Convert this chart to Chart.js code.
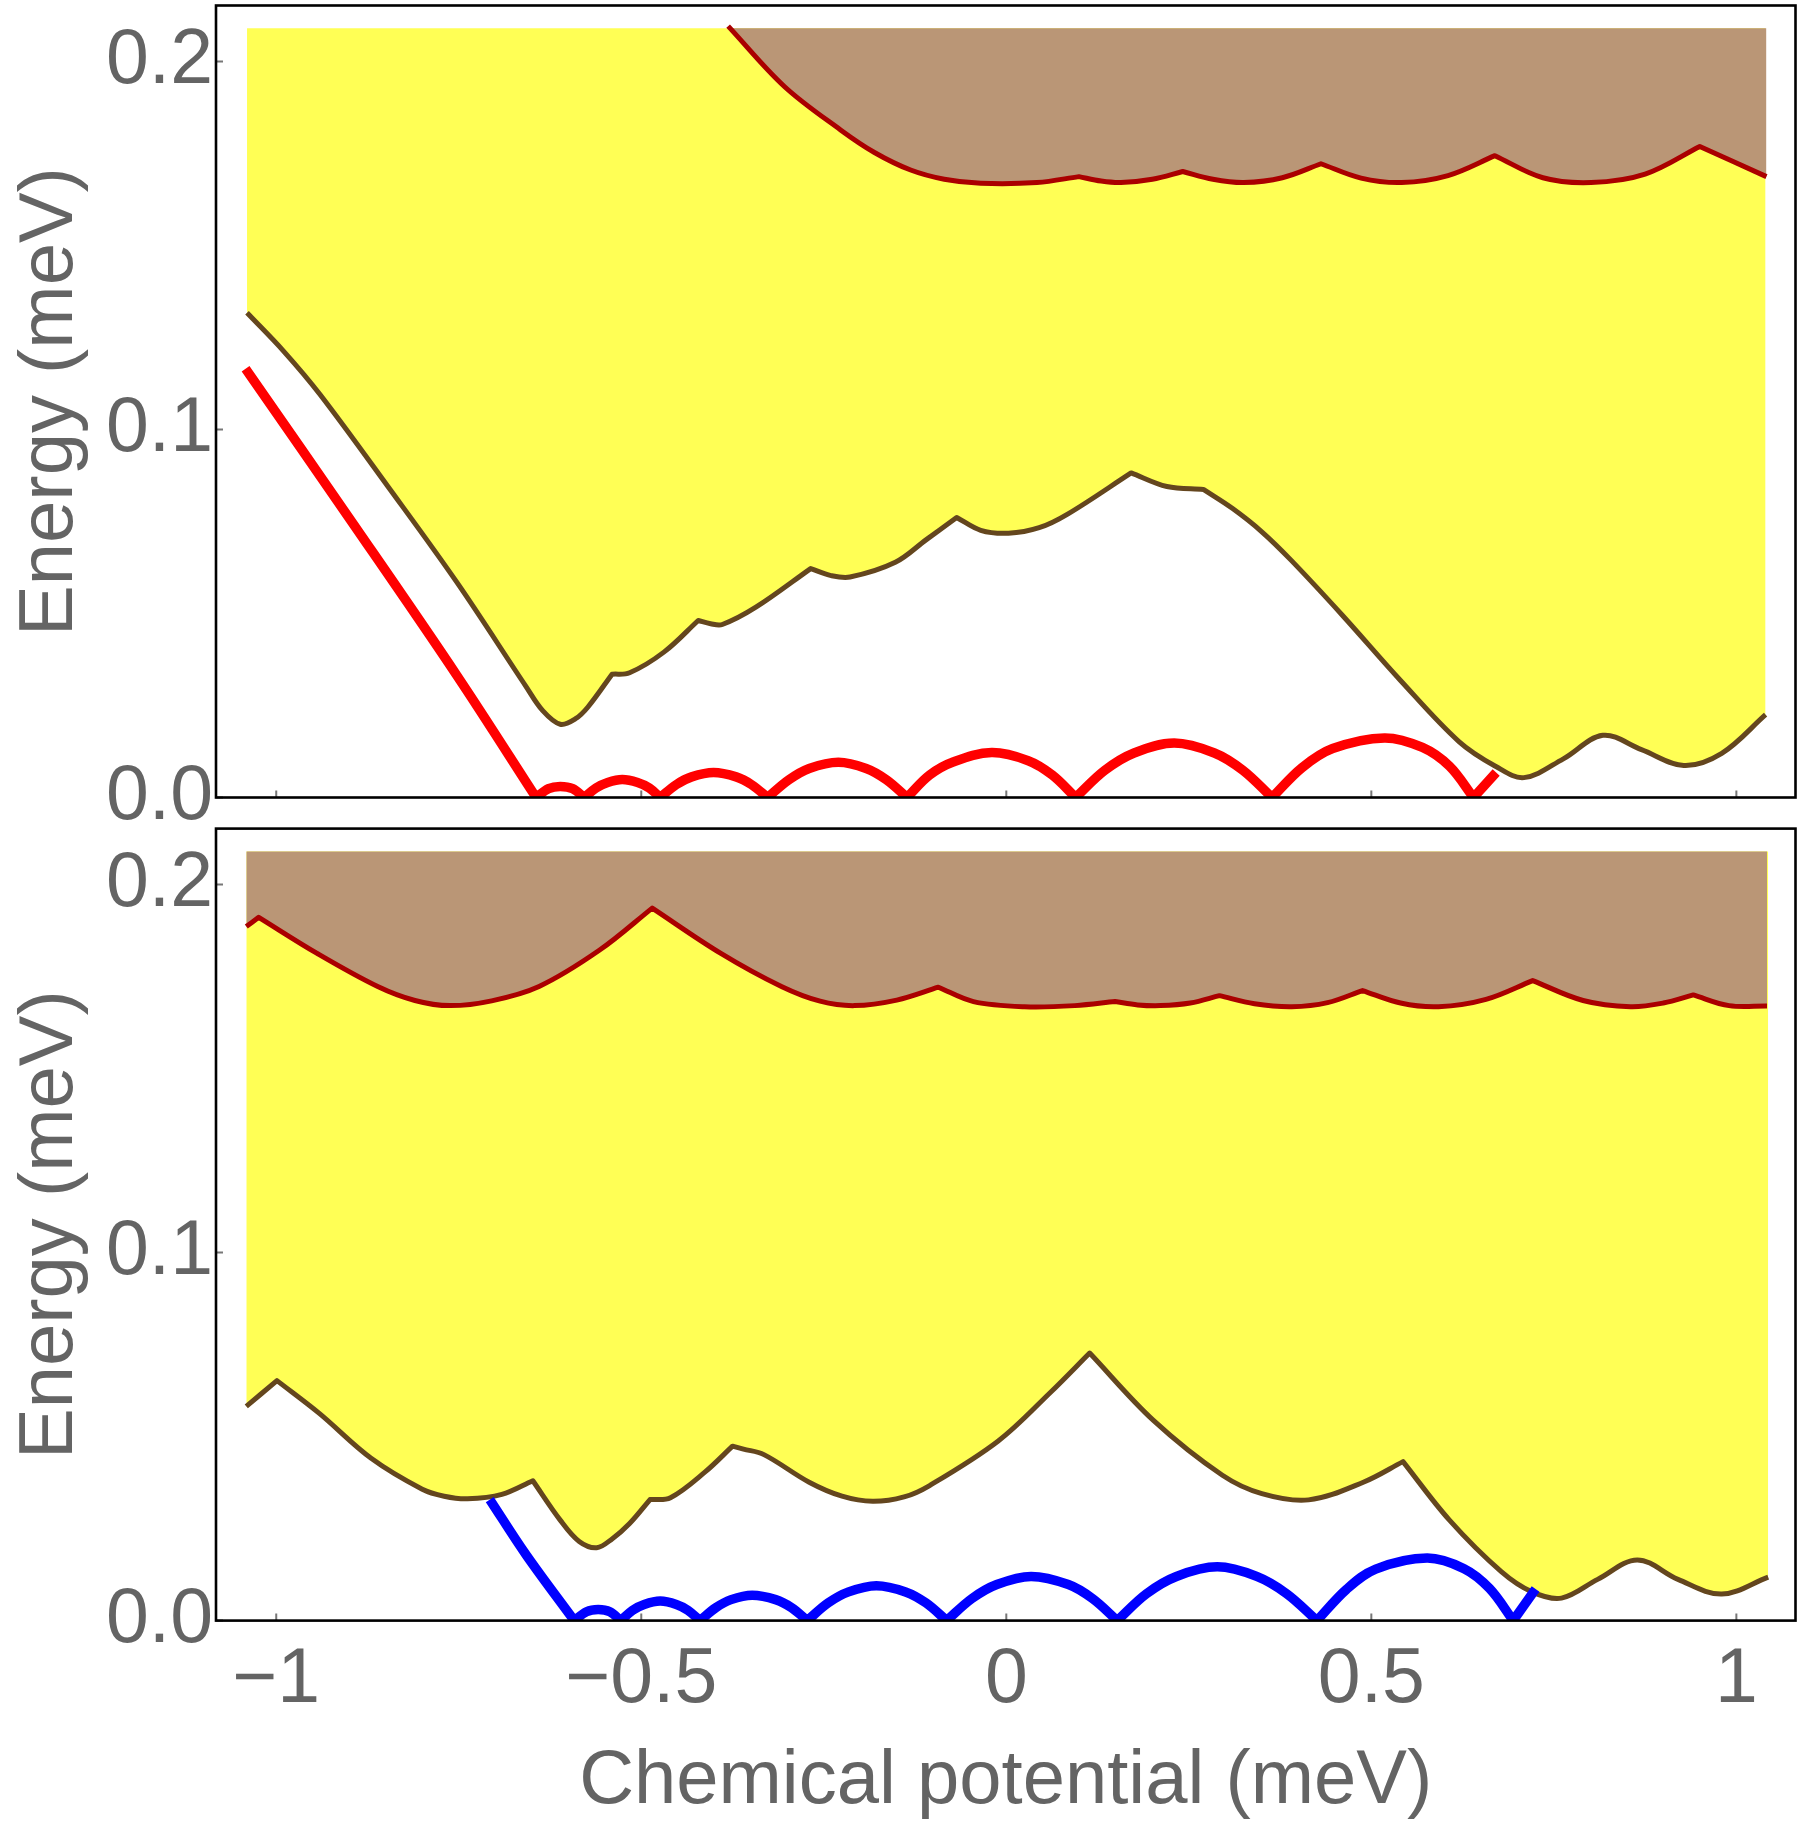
<!DOCTYPE html>
<html>
<head>
<meta charset="utf-8">
<script src="https://cdn.jsdelivr.net/npm/chart.js@4.4.0/dist/chart.umd.min.js"></script>
<style>
  html, body { margin: 0; padding: 0; background: #fff; }
  #wrap { position: relative; width: 1800px; height: 1830px; overflow: hidden; }
  #wrap canvas { position: absolute; left: 0; }
  #arriba { top: 0; }
  #abajo { top: 800px; }
</style>
</head>
<body>
<div id="wrap">
  <canvas id="arriba" width="1800" height="840"></canvas>
  <canvas id="abajo" width="1800" height="1030"></canvas>
</div>
<script>
const xTickVals = [-1, -0.5, 0, 0.5, 1]
const xTickLabels = ['\u22121', '\u22120.5', '0', '0.5', '1']
const yTickVals = [0, 0.1, 0.2]
const yTickLabels = ['0.0', '0.1', '0.2']
const fillTop = 0.209

// panel de arriba: borde del gap (cafe), banda superior (granate), estado rojo
// (los puntos repetidos marcan las esquinas)
const muGapA = [-1.040, -0.990, -0.940, -0.847, -0.752, -0.658, -0.635, -0.611, -0.590, -0.573, -0.540, -0.540, -0.516, -0.469, -0.422, -0.422, -0.405, -0.389, -0.343, -0.268, -0.268, -0.240, -0.214, -0.152, -0.110, -0.068, -0.068, -0.035, 0.003, 0.045, 0.084, 0.171, 0.171, 0.220, 0.270, 0.270, 0.310, 0.350, 0.390, 0.460, 0.540, 0.620, 0.670, 0.709, 0.763, 0.817, 0.870, 0.928, 0.980, 1.040]
const gapA = [0.1317, 0.1213, 0.1095, 0.0845, 0.0583, 0.0302, 0.0236, 0.0199, 0.0214, 0.0246, 0.0335, 0.0335, 0.0339, 0.0395, 0.0481, 0.0481, 0.0472, 0.0470, 0.0517, 0.0622, 0.0622, 0.0603, 0.0599, 0.0639, 0.0700, 0.0761, 0.0761, 0.0726, 0.0718, 0.0733, 0.0770, 0.0882, 0.0882, 0.0845, 0.0837, 0.0837, 0.0785, 0.0722, 0.0645, 0.0496, 0.0318, 0.0152, 0.0085, 0.0054, 0.0105, 0.0169, 0.0130, 0.0087, 0.0120, 0.0225]

const muBandA = [-0.381, -0.304, -0.227, -0.180, -0.131, -0.085, -0.035, 0.042, 0.0995, 0.0995, 0.130, 0.157, 0.200, 0.2417, 0.2417, 0.283, 0.3253, 0.378, 0.431, 0.431, 0.486, 0.5415, 0.605, 0.6693, 0.6693, 0.735, 0.801, 0.875, 0.9499, 0.9499, 1.0412]
const bandA = [0.2096, 0.1932, 0.1814, 0.1752, 0.1705, 0.1680, 0.1669, 0.1671, 0.1687, 0.1687, 0.1675, 0.1671, 0.1680, 0.1701, 0.1701, 0.1680, 0.1671, 0.1684, 0.1722, 0.1722, 0.1683, 0.1671, 0.1690, 0.1744, 0.1744, 0.1684, 0.1671, 0.1694, 0.1769, 0.1769, 0.1687]

const muStateA = [-1.042, -0.894, -0.752, -0.644, -0.644, -0.627, -0.611, -0.594, -0.578, -0.578, -0.562, -0.546, -0.526, -0.505, -0.489, -0.474, -0.474, -0.452, -0.431, -0.401, -0.370, -0.349, -0.327, -0.327, -0.298, -0.270, -0.230, -0.192, -0.164, -0.136, -0.136, -0.105, -0.072, -0.020, 0.030, 0.063, 0.095, 0.095, 0.135, 0.175, 0.230, 0.285, 0.324, 0.364, 0.364, 0.405, 0.447, 0.518, 0.570, 0.607, 0.640, 0.640, 0.671]
const stateA = [0.1165, 0.0742, 0.0330, 0, 0, 0.0024, 0.0030, 0.0024, 0, 0, 0.0026, 0.0041, 0.0049, 0.0041, 0.0026, 0, 0, 0.0035, 0.0056, 0.0068, 0.0056, 0.0035, 0, 0, 0.0048, 0.0079, 0.0096, 0.0079, 0.0048, 0, 0, 0.0061, 0.0097, 0.0122, 0.0100, 0.0061, 0, 0, 0.0074, 0.0121, 0.0148, 0.0121, 0.0074, 0, 0, 0.0081, 0.0133, 0.0162, 0.0136, 0.0085, 0, 0, 0.0068]

// panel de abajo
const muGapB = [-1.041, -0.999, -0.999, -0.941, -0.870, -0.800, -0.770, -0.738, -0.691, -0.6485, -0.6485, -0.611, -0.585, -0.561, -0.540, -0.516, -0.488, -0.488, -0.460, -0.4125, -0.375, -0.375, -0.360, -0.332, -0.270, -0.225, -0.183, -0.140, -0.105, -0.011, 0.060, 0.1142, 0.1142, 0.2015, 0.296, 0.350, 0.414, 0.489, 0.5434, 0.5434, 0.607, 0.678, 0.720, 0.7605, 0.810, 0.8643, 0.920, 0.980, 1.0436]
const gapB = [0.0582, 0.0652, 0.0652, 0.0563, 0.0441, 0.0357, 0.0338, 0.0331, 0.0343, 0.0380, 0.0380, 0.0273, 0.0215, 0.0198, 0.0222, 0.0264, 0.0329, 0.0329, 0.0334, 0.0404, 0.0474, 0.0474, 0.0466, 0.0451, 0.0376, 0.0338, 0.0324, 0.0336, 0.0367, 0.0488, 0.0619, 0.0727, 0.0727, 0.0544, 0.0395, 0.0345, 0.0328, 0.0376, 0.0432, 0.0432, 0.0273, 0.0133, 0.0078, 0.0061, 0.0112, 0.0165, 0.0112, 0.0072, 0.0118]

const muBandB = [-1.041, -1.024, -1.024, -0.944, -0.861, -0.810, -0.762, -0.705, -0.640, -0.557, -0.485, -0.485, -0.391, -0.308, -0.255, -0.208, -0.150, -0.093, -0.093, -0.045, 0.025, 0.094, 0.149, 0.149, 0.180, 0.211, 0.252, 0.292, 0.292, 0.340, 0.391, 0.440, 0.488, 0.488, 0.540, 0.592, 0.657, 0.721, 0.721, 0.790, 0.855, 0.900, 0.941, 0.941, 0.990, 1.042]
const bandB = [0.1886, 0.1911, 0.1911, 0.1813, 0.1723, 0.1685, 0.1671, 0.1684, 0.1723, 0.1822, 0.1936, 0.1936, 0.1813, 0.1723, 0.1683, 0.1671, 0.1686, 0.1721, 0.1721, 0.1682, 0.1668, 0.1671, 0.1682, 0.1682, 0.1673, 0.1671, 0.1678, 0.1698, 0.1698, 0.1676, 0.1668, 0.1679, 0.1712, 0.1712, 0.1678, 0.1668, 0.1688, 0.1739, 0.1739, 0.1685, 0.1668, 0.1678, 0.1700, 0.1700, 0.1671, 0.1670]

const muStateB = [-0.7075, -0.6578, -0.5918, -0.5918, -0.575, -0.559, -0.543, -0.528, -0.528, -0.512, -0.496, -0.474, -0.452, -0.436, -0.4196, -0.4196, -0.398, -0.377, -0.348, -0.316, -0.294, -0.2726, -0.2726, -0.244, -0.216, -0.178, -0.138, -0.110, -0.0816, -0.0816, -0.047, -0.013, 0.034, 0.085, 0.118, 0.152, 0.152, 0.192, 0.233, 0.289, 0.343, 0.384, 0.4255, 0.4255, 0.466, 0.506, 0.5765, 0.627, 0.662, 0.6944, 0.6944, 0.725]
const stateB = [0.0329, 0.0179, 0, 0, 0.0024, 0.0030, 0.0024, 0, 0, 0.0028, 0.0044, 0.0053, 0.0044, 0.0028, 0, 0, 0.0035, 0.0057, 0.0069, 0.0057, 0.0035, 0, 0, 0.0048, 0.0078, 0.0095, 0.0078, 0.0048, 0, 0, 0.0060, 0.0098, 0.0120, 0.0098, 0.0060, 0, 0, 0.0073, 0.0120, 0.0146, 0.0120, 0.0073, 0, 0, 0.0085, 0.0140, 0.0170, 0.0141, 0.0087, 0, 0, 0.0086]

const gris = '#646464'
const amarillo = '#ffff55'
const canela = '#ba9676'
const cafe = '#64461e'
const granate = '#aa0000'
const fuente = 'Liberation Sans, Arial, sans-serif'

const toPoints = (xs, ys) => xs.map((x, i) => ({ x, y: ys[i] }))

// marco negro y ticks hacia adentro, como en Mathematica
const marco = {
    id: 'marco',
    afterDatasetsDraw(chart) {
        const { ctx, chartArea: a, scales: { x, y } } = chart
        ctx.save()
        ctx.strokeStyle = '#777'
        ctx.lineWidth = 2
        ctx.beginPath()
        xTickVals.forEach(v => {
            let px = x.getPixelForValue(v)
            ctx.moveTo(px, a.bottom)
            ctx.lineTo(px, a.bottom - 7)
        })
        yTickVals.forEach(v => {
            let py = y.getPixelForValue(v)
            ctx.moveTo(a.left, py)
            ctx.lineTo(a.left + 7, py)
        })
        ctx.stroke()
        ctx.strokeStyle = '#000'
        ctx.lineWidth = 2.6
        ctx.strokeRect(a.left, a.top, a.right - a.left, a.bottom - a.top)
        ctx.restore()
    }
}

const crearPanel = (id, datasets, conEjeX) => {
    return new Chart(document.getElementById(id), {
        type: 'line',
        data: { datasets },
        options: {
            responsive: false,
            devicePixelRatio: 1,
            animation: false,
            layout: {
                padding: conEjeX
                    ? { top: 28.6, right: 4.5, bottom: 0, left: 0 }
                    : { top: 5.5, right: 4.5, bottom: 42.5, left: 0 }
            },
            elements: {
                point: { radius: 0 },
                line: { tension: 0.35, borderJoinStyle: 'round' }
            },
            plugins: { legend: { display: false }, tooltip: { enabled: false } },
            scales: {
                x: {
                    type: 'linear',
                    min: -1.0825,
                    max: 1.081,
                    grid: { display: false, drawTicks: false },
                    border: { display: false },
                    afterBuildTicks: s => { s.ticks = xTickVals.map(v => ({ value: v })) },
                    ticks: {
                        display: conEjeX,
                        autoSkip: false,
                        maxRotation: 0,
                        padding: 14,
                        color: gris,
                        font: { family: fuente, size: 77 },
                        callback: (v, i) => xTickLabels[i]
                    },
                    title: {
                        display: conEjeX,
                        text: 'Chemical potential (meV)',
                        color: gris,
                        font: { family: fuente, size: 76 },
                        padding: { top: 0, bottom: 2 }
                    },
                    afterFit: s => {
                        s.height = conEjeX ? 209.4 : 0
                        s.paddingLeft = 0
                        s.paddingRight = 0
                    }
                },
                y: {
                    type: 'linear',
                    min: 0,
                    max: 0.2152,
                    grid: { display: false, drawTicks: false },
                    border: { display: false },
                    afterBuildTicks: s => { s.ticks = yTickVals.map(v => ({ value: v })) },
                    ticks: {
                        padding: 3,
                        color: gris,
                        font: { family: fuente, size: 77 },
                        callback: (v, i) => yTickLabels[i]
                    },
                    title: {
                        display: true,
                        text: 'Energy (meV)',
                        color: gris,
                        font: { family: fuente, size: 76 },
                        padding: { top: 5, bottom: 0 }
                    },
                    afterFit: s => {
                        s.width = 216
                        s.paddingTop = 0
                        s.paddingBottom = 0
                    }
                }
            }
        },
        plugins: [marco]
    })
}

crearPanel('arriba', [
    { data: toPoints(muGapA, gapA), borderColor: cafe, borderWidth: 5, backgroundColor: amarillo, fill: { value: fillTop }, order: 3 },
    { data: toPoints(muBandA, bandA), borderColor: granate, borderWidth: 5, backgroundColor: canela, fill: { value: fillTop }, order: 2 },
    { data: toPoints(muStateA, stateA), borderColor: '#ff0000', borderWidth: 9.5, fill: false, order: 1 }
], false)

crearPanel('abajo', [
    { data: toPoints(muGapB, gapB), borderColor: cafe, borderWidth: 5, backgroundColor: amarillo, fill: { value: fillTop }, order: 3 },
    { data: toPoints(muBandB, bandB), borderColor: granate, borderWidth: 5, backgroundColor: canela, fill: { value: fillTop }, order: 2 },
    { data: toPoints(muStateB, stateB), borderColor: '#0000ff', borderWidth: 9.5, fill: false, order: 1 }
], true)
</script>
</body>
</html>
